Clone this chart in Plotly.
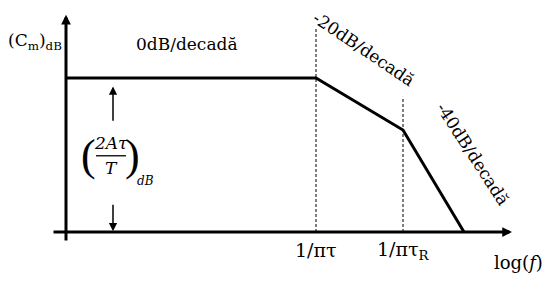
import plotly.graph_objects as go

# ---- data (log-frequency in decades, magnitude in dB) ----
log_f = [0.0, 2.5, 3.37, 3.98]          # origin, 1/(pi*tau), 1/(pi*tau_R), end
gain_db = [40.0, 40.0, 26.5, 0.0]
corner_x = [2.5, 3.37]
corner_top = [53.2, 35.1]
tick_labels = ["1/πτ", "1/πτ<sub>R</sub>"]
slope_labels = ["0dB/decadă", "-20dB/decadă", "-40dB/decadă"]

x_axis_span = [-0.14, 4.46]
y_axis_span = [-2.6, 56.4]

FONT = "DejaVu Serif"

fig = go.Figure()

# Bode asymptote
fig.add_trace(go.Scatter(x=log_f, y=gain_db, mode="lines",
                         line=dict(color="black", width=3), hoverinfo="skip",
                         showlegend=False))

# dashed corner lines
for cx, ct in zip(corner_x, corner_top):
    fig.add_trace(go.Scatter(x=[cx, cx], y=[0, ct], mode="lines",
                             line=dict(color="black", width=1, dash="3px,2px"),
                             hoverinfo="skip", showlegend=False))

ann = []
# axes with arrows
ann.append(dict(x=0, y=y_axis_span[1], ax=0, ay=y_axis_span[0], xref="x", yref="y",
                axref="x", ayref="y", showarrow=True, arrowhead=2, arrowsize=0.65,
                arrowwidth=3, arrowcolor="black", text=""))
ann.append(dict(x=x_axis_span[1], y=0, ax=x_axis_span[0], ay=0, xref="x", yref="y",
                axref="x", ayref="y", showarrow=True, arrowhead=2, arrowsize=0.65,
                arrowwidth=3, arrowcolor="black", text=""))
# level arrows
level = gain_db[0]
ann.append(dict(x=0.47, y=level - 2.2, ax=0.47, ay=level - 11.5, xref="x", yref="y",
                axref="x", ayref="y", showarrow=True, arrowhead=2, arrowsize=1.1,
                arrowwidth=1.5, arrowcolor="black", text=""))
ann.append(dict(x=0.47, y=0.2, ax=0.47, ay=7.5, xref="x", yref="y",
                axref="x", ayref="y", showarrow=True, arrowhead=2, arrowsize=1.1,
                arrowwidth=1.5, arrowcolor="black", text=""))

def txt(x, y, s, size=17, angle=0, family=FONT, **kw):
    d = dict(x=x, y=y, xref="x", yref="y", text=s, showarrow=False,
             font=dict(family=family, size=size, color="black"), textangle=angle)
    d.update(kw)
    ann.append(d)

txt(-0.31, 49.4, "(C<sub>m</sub>)<sub>dB</sub>", size=17)
txt(1.21, 48.8, slope_labels[0], size=17)
txt(2.98, 47.6, slope_labels[1], size=17, angle=34)
txt(4.07, 20.3, slope_labels[2], size=17, angle=57)

# tick labels
txt(corner_x[0], -4.7, tick_labels[0], size=19)
txt(corner_x[1], -4.7, tick_labels[1], size=19)
txt(4.52, -7.8, "log(<i>f</i>)", size=18)

# fraction label (2Aτ/T)_dB
txt(0.45, 23.2, "<i>2Aτ</i>", size=17)
txt(0.45, 16.6, "<i>T</i>", size=17)
txt(0.22, 20.0, "(", size=44, family="Liberation Serif")
txt(0.66, 20.0, ")", size=44, family="Liberation Serif")
txt(0.79, 13.2, "<i>dB</i>", size=12)

fig.add_shape(type="line", x0=0.30, x1=0.60, y0=19.8, y1=19.8, xref="x", yref="y",
              line=dict(color="black", width=1.3))

# the page body adds an 8px offset; ranges are chosen so marks land where the reference has them
fig.update_layout(
    width=550, height=282, margin=dict(l=0, r=0, t=0, b=0),
    paper_bgcolor="white", plot_bgcolor="white",
    xaxis=dict(range=[-0.58, 4.92], visible=False, fixedrange=True),
    yaxis=dict(range=[-15.06, 58.18], visible=False, fixedrange=True),
    annotations=ann, showlegend=False,
)
fig.write_html("out.html")
